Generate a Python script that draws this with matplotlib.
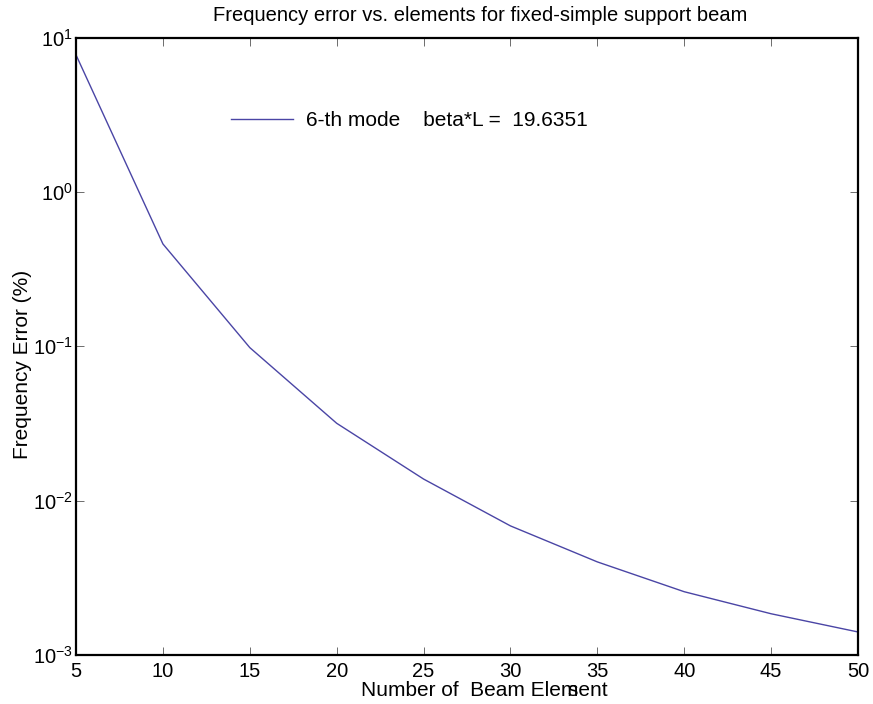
import matplotlib
matplotlib.use("Agg")
import math
import matplotlib.pyplot as plt
from matplotlib.ticker import FuncFormatter

# Number of beam elements vs. frequency error (%) for the 6th mode
n_elem = [5, 10, 15, 20, 25, 30, 35, 40, 45, 50]
freq_err = [7.71, 0.460, 0.098, 0.0317, 0.0138, 0.00686, 0.00401, 0.00257, 0.00185, 0.00141]
x_ticks = [5, 10, 15, 20, 25, 30, 35, 40, 45, 50]
y_ticks = [1e-3, 1e-2, 1e-1, 1e0, 1e1]

plt.rcParams['font.family'] = ['Liberation Sans', 'DejaVu Sans']
plt.rcParams['mathtext.fontset'] = 'custom'
plt.rcParams['mathtext.rm'] = 'Liberation Sans'
plt.rcParams['mathtext.it'] = 'Liberation Sans'

FS = 14.5

fig = plt.figure(figsize=(8.73, 7.04), dpi=100)
ax = fig.add_axes([0.0871, 0.0696, 0.8957, 0.8771])

ax.semilogy(n_elem, freq_err, color='#4a45a5', linewidth=1.0,
            label='6-th mode    beta*L =  19.6351')

ax.set_xlim(5, 50)
ax.set_ylim(1e-3, 1e1)
ax.set_xticks(x_ticks)
ax.set_yticks(y_ticks)
ax.minorticks_off()
ax.yaxis.set_major_formatter(FuncFormatter(
    lambda v, p: r'$\mathregular{10^{%d}}$' % round(math.log10(v))))
ax.tick_params(which='major', direction='in', top=True, right=True,
               length=6, width=0.6, color='#555555', labelsize=FS)
ax.tick_params(axis='x', pad=5)
ax.tick_params(axis='y', pad=2)
for sp in ax.spines.values():
    sp.set_linewidth(1.6)

ax.set_title('Frequency error vs. elements for fixed-simple support beam',
             fontsize=FS, pad=12, x=0.517)
ax.set_ylabel('Frequency Error (%)', fontsize=15, va='center')
ax.yaxis.set_label_coords(-0.069, 0.47)
ax.set_xlabel('Number of  Beam Element', fontsize=15, ha='left', va='baseline')
ax.xaxis.set_label_coords(0.364, -0.0664)
# the overlapping "s" of the original label
ax.text(0.629, -0.0664, 's', transform=ax.transAxes, fontsize=15,
        ha='left', va='baseline')

ax.legend(loc='center left', bbox_to_anchor=(0.198, 0.865), frameon=False,
          borderaxespad=0, borderpad=0, handlelength=3.0, handletextpad=0.6,
          fontsize=15)

fig.savefig('out.png', dpi=100)
